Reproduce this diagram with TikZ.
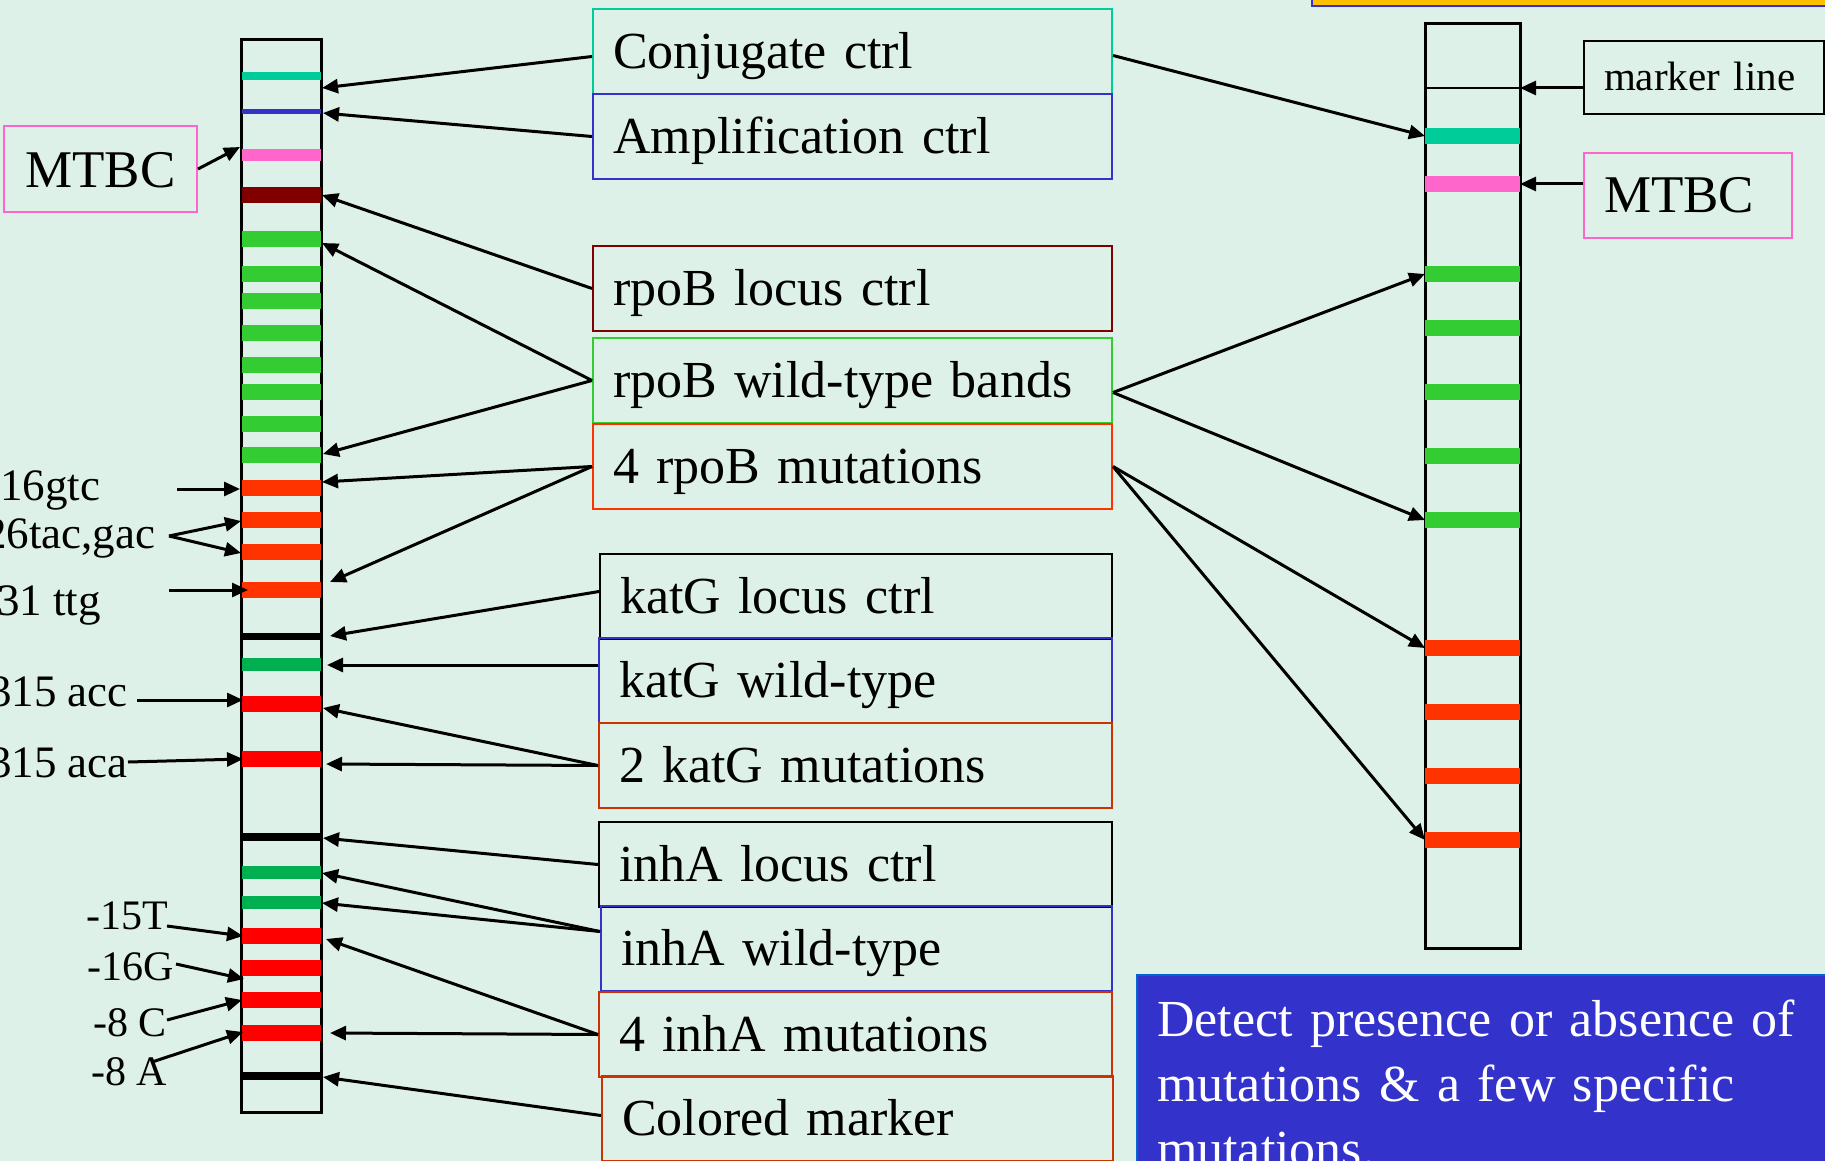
\documentclass[tikz,border=0pt]{standalone}
\usepackage{fontspec}
\setmainfont{Liberation Serif}
\usetikzlibrary{arrows.meta}
\definecolor{mint}{RGB}{222,241,232}
\definecolor{aqua}{RGB}{0,204,153}
\definecolor{indigo}{RGB}{51,51,204}
\definecolor{rose}{RGB}{255,102,204}
\definecolor{maroon}{RGB}{128,0,0}
\definecolor{leaf}{RGB}{51,204,51}
\definecolor{flame}{RGB}{255,51,0}
\definecolor{rust}{RGB}{204,51,0}
\definecolor{pine}{RGB}{0,176,80}
\definecolor{amber}{RGB}{255,192,0}
\definecolor{sky}{RGB}{0,102,204}
\def\LB#1#2#3{\draw[#2,line width=#3pt] (242,#1) -- (321,#1);}
\def\RB#1#2{\draw[#2,line width=16pt] (1425,#1) -- (1520,#1);}
\tikzset{
  tagbox/.style={draw=#1,line width=2pt,anchor=north west,inner xsep=20pt,inner ysep=0pt,
    text width=479pt,align=left,text height=42pt,text depth=8pt,minimum height=85pt,
    font=\fontsize{52}{60}\selectfont},
  arr/.style={line width=3pt,-{Triangle[length=16pt,width=14pt]}},
  mutlbl/.style={anchor=base west,inner sep=0pt,font=\fontsize{45}{50}\selectfont},
  promlbl/.style={anchor=base west,inner sep=0pt,font=\fontsize{42}{48}\selectfont}
}
\begin{document}
\begin{tikzpicture}[x=1pt,y=-1pt]
\useasboundingbox (0,0) rectangle (1825,1161);
\fill[mint] (0,0) rectangle (1825,1161);
\draw[fill=amber,draw=indigo,line width=2pt] (1312,-10) rectangle (1835,6);

% left strip
\draw[line width=3pt] (241,40) rectangle (321,1112);
\LB{76}{aqua}{8} \LB{112}{indigo}{5} \LB{155}{rose}{12} \LB{195}{maroon}{16}
\foreach \y in {239,274,301,333,365,392,424,455} {\LB{\y}{leaf}{16}}
\foreach \y in {488,520,552,590} {\LB{\y}{flame}{16}}
\LB{636}{black}{7} \LB{664}{pine}{13} \LB{704}{red}{16} \LB{759}{red}{16}
\LB{837}{black}{8} \LB{872}{pine}{13} \LB{902}{pine}{13}
\foreach \y in {936,968,1000,1033} {\LB{\y}{red}{16}}
\LB{1076}{black}{8}

% right strip
\draw[line width=3pt] (1425,24) rectangle (1520,948);
\draw[line width=2.5pt] (1425,88) -- (1520,88);
\RB{136}{aqua} \RB{184}{rose}
\foreach \y in {274,328,392,456,520} {\RB{\y}{leaf}}
\foreach \y in {648,712,776,840} {\RB{\y}{flame}}

% band targets
\coordinate (lPink) at (240,147);
\coordinate (lConj) at (322,88);
\coordinate (lAmpl) at (323,113);
\coordinate (lRloc) at (322,195);
\coordinate (lRwt1) at (322,243);
\coordinate (lRwt2) at (323,454);
\coordinate (lRmut1) at (322,482);
\coordinate (lRmut2) at (330,582);
\coordinate (lKloc) at (330,636);
\coordinate (lKwt) at (327,665);
\coordinate (lKmut1) at (323,708);
\coordinate (lKmut2) at (326,764);
\coordinate (lIloc) at (323,838);
\coordinate (lIwt1) at (322,873);
\coordinate (lIwt2) at (322,903);
\coordinate (lImut1) at (326,939);
\coordinate (lImut2) at (330,1033);
\coordinate (lCmark) at (323,1077);
\coordinate (rMark) at (1520,88);
\coordinate (rPink) at (1520,184);
\coordinate (rTeal) at (1425,136);
\coordinate (rGrn1) at (1425,274);
\coordinate (rGrn5) at (1425,520);
\coordinate (rRed1) at (1425,648);
\coordinate (rRed4) at (1425,840);

% boxes
\node[tagbox=aqua] (conj) at (592,8) {Conjugate ctrl};
\node[tagbox=indigo] (ampl) at (592,93) {Amplification ctrl};
\node[tagbox=maroon] (rloc) at (592,245) {rpoB locus ctrl};
\node[tagbox=leaf] (rwt) at (592,337) {rpoB wild-type bands};
\node[tagbox=flame] (rmut) at (592,423) {4 rpoB mutations};
\node[tagbox=black,text width=472pt] (kloc) at (599,553) {katG locus ctrl};
\node[tagbox=indigo,text width=473pt] (kwt) at (598,637) {katG wild-type};
\node[tagbox=rust,text width=473pt] (kmut) at (598,722) {2 katG mutations};
\node[tagbox=black,text width=473pt] (iloc) at (598,821) {inhA locus ctrl};
\node[tagbox=indigo,text width=471pt] (iwt) at (600,905) {inhA wild-type};
\node[tagbox=rust,text width=473pt] (imut) at (598,991) {4 inhA mutations};
\node[tagbox=rust,text width=471pt] (cmark) at (601,1075) {Colored marker};
\node[tagbox=rose,text width=168pt,font=\fontsize{53}{60}\selectfont] (mtbcR) at (1583,152) {MTBC};
\node[tagbox=black,text width=200pt,minimum height=73pt,text height=34pt,text depth=7pt,
  font=\fontsize{41}{46}\selectfont] (mark) at (1583,40) {marker line};
\node[draw=rose,line width=2pt,minimum width=193pt,minimum height=86pt,inner sep=0pt,
  text height=37pt,text depth=0pt,font=\fontsize{53}{60}\selectfont] (mtbcL) at (100.5,169) {MTBC};
\node[fill=indigo,draw=sky,line width=2pt,anchor=north west,inner xsep=20pt,inner ysep=25pt,
  text width=660pt,align=left,text=white,font=\fontsize{52}{65}\selectfont] (note) at (1136,974)
  {Detect presence or absence of\\mutations \& a few specific\\mutations.};

% mutation labels
\node[mutlbl] (m516) at (0,500) {16gtc};
\node[mutlbl] (m526) at (-16,548) {26tac,gac};
\node[mutlbl] (m531) at (-3,615) {31 ttg};
\node[mutlbl] (m315c) at (-11,706) {315 acc};
\node[mutlbl] (m315a) at (-11,777) {315 aca};
\node[promlbl] (p15T) at (86,929) {-15T};
\node[promlbl] (p16G) at (87,980) {-16G};
\node[promlbl] (p8C) at (93,1036) {-8 C};
\node[promlbl] (p8A) at (91,1085) {-8 A};
\coordinate (s516) at (177,489);
\coordinate (s526) at (169,536);
\coordinate (s531) at (169,590);
\coordinate (s315c) at (137,700);
\coordinate (s315a) at (128,762);
\coordinate (s15T) at (167,926);
\coordinate (s16G) at (176,964);
\coordinate (s8C) at (167,1020);
\coordinate (s8A) at (152,1062);
\coordinate (t516) at (240,489);
\coordinate (t526a) at (241,521);
\coordinate (t526b) at (241,553);
\coordinate (t531) at (248,590);
\coordinate (t315c) at (243,700);
\coordinate (t315a) at (243,759);
\coordinate (t15T) at (243,936);
\coordinate (t16G) at (244,979);
\coordinate (t8C) at (242,1000);
\coordinate (t8A) at (243,1032);

% arrows
\draw[arr] (mtbcL.east) -- (lPink);
\draw[arr] ([yshift=-5pt]conj.west) -- (lConj);
\draw[arr] (ampl.west) -- (lAmpl);
\draw[arr] (rloc.west) -- (lRloc);
\draw[arr] (rwt.west) -- (lRwt1);
\draw[arr] (rwt.west) -- (lRwt2);
\draw[arr] (rmut.west) -- (lRmut1);
\draw[arr] (rmut.west) -- (lRmut2);
\draw[arr] ([yshift=5pt]kloc.west) -- (lKloc);
\draw[arr] (kwt.west |- lKwt) -- (lKwt);
\draw[arr] (kmut.west) -- (lKmut1);
\draw[arr] (kmut.west) -- (lKmut2);
\draw[arr] (iloc.west) -- (lIloc);
\draw[arr] ([yshift=17pt]iwt.west) -- (lIwt1);
\draw[arr] ([yshift=17pt]iwt.west) -- (lIwt2);
\draw[arr] (imut.west) -- (lImut1);
\draw[arr] (imut.west) -- (lImut2);
\draw[arr] ([yshift=3pt]cmark.west) -- (lCmark);
\draw[arr] ([yshift=-4pt]conj.east) -- (rTeal);
\draw[arr] ([yshift=-12pt]rwt.east) -- (rGrn1);
\draw[arr] ([yshift=-12pt]rwt.east) -- (rGrn5);
\draw[arr] (rmut.east) -- (rRed1);
\draw[arr] (rmut.east) -- (rRed4);
\draw[arr] (mark.west |- rMark) -- (rMark);
\draw[arr] (mtbcR.west |- rPink) -- (rPink);
\draw[arr] (s516) -- (t516);
\draw[arr] (s526) -- (t526a);
\draw[arr] (s526) -- (t526b);
\draw[arr] (s531) -- (t531);
\draw[arr] (s315c) -- (t315c);
\draw[arr] (s315a) -- (t315a);
\draw[arr] (s15T) -- (t15T);
\draw[arr] (s16G) -- (t16G);
\draw[arr] (s8C) -- (t8C);
\draw[arr] (s8A) -- (t8A);
\end{tikzpicture}
\end{document}
